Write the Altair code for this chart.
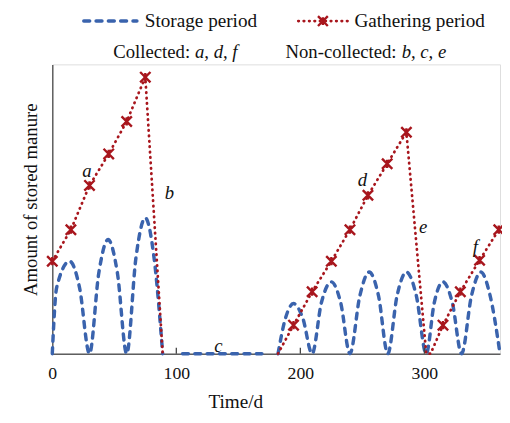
import altair as alt
import pandas as pd

# ---- Storage period (blue dashed) ----
storage_day = [0, 3.5, 14, 22, 30, 37.5, 45, 52.5, 60, 67.5, 75, 82, 89,
               105, 169,
               182, 188, 194.5, 202, 209.5, 217, 225, 232.5, 240, 248, 255.5, 263,
               270.5, 278, 285.5, 293.5, 301.5, 308, 315, 322.5, 330, 338, 345.5, 353, 361]
storage_amt = [0, 67, 94, 67, 0, 82, 116, 82, 0, 98, 138, 98, 0,
               0, 0,
               0, 36, 51, 36, 0, 52, 73, 52, 0, 59, 83, 59,
               0, 59, 83, 59, 0, 52, 73, 52, 0, 59, 83, 59, 0]
storage_seg = [1, 1, 1, 1, 1, 1, 1, 1, 1, 1, 1, 1, 1,
               2, 2,
               3, 3, 3, 3, 3, 3, 3, 3, 3, 3, 3, 3,
               3, 3, 3, 3, 3, 3, 3, 3, 3, 3, 3, 3, 3]

# ---- Gathering period (red dotted with markers) ----
gather_day = [0, 15, 30, 45.5, 60, 75, 89,
              182, 194.5, 209.5, 225, 240, 254.5, 270, 285.5, 301.5, 305, 315, 329, 344.5, 360]
gather_amt = [94, 126, 171, 203, 236, 281, 0,
              0, 29, 63, 94, 126, 161, 193, 225, 0, 0, 29, 63, 95, 126]
gather_seg = [1, 1, 1, 1, 1, 1, 1,
              2, 2, 2, 2, 2, 2, 2, 2, 2, 2, 2, 2, 2, 2]
gather_marker = [1, 1, 1, 1, 1, 1, 0,
                 0, 1, 1, 1, 1, 1, 1, 1, 0, 0, 1, 1, 1, 1]

# ---- Annotations ----
label_text = ["a", "b", "c", "d", "e", "f"]
label_day = [28, 94.5, 134, 250, 299, 341]
label_amt = [186, 163, 8, 176, 129, 108]

tick_day = [100, 200, 300]
x_labels = [0, 100, 200, 300]

BLUE = "#3A63AD"
RED = "#A8161D"
FONT = "Liberation Serif"
XMARK = "M-1,-1L1,1M1,-1L-1,1M0,-0.8L0,0.8"

storage = pd.DataFrame({"day": storage_day, "amt": storage_amt, "seg": storage_seg})
gather = pd.DataFrame({"day": gather_day, "amt": gather_amt, "seg": gather_seg,
                       "marker": gather_marker})
labels = pd.DataFrame({"day": label_day, "amt": label_amt, "txt": label_text})
ticks = pd.DataFrame({"day": tick_day})

X = alt.X("day:Q",
          scale=alt.Scale(domain=[0, 361], nice=False),
          axis=alt.Axis(values=x_labels, ticks=False, grid=False, labelFlush=False,
                        labelFont=FONT, labelFontSize=18, labelColor="#111",
                        labelPadding=11, domainColor="#5e5e5e", domainWidth=1.5,
                        title="Time/d", titleFont=FONT, titleFontSize=19.5,
                        titleFontWeight="normal", titleColor="#111",
                        titleX=186, titleY=55, titleBaseline="alphabetic"))
Y = alt.Y("amt:Q",
          scale=alt.Scale(domain=[0, 294], nice=False),
          axis=alt.Axis(labels=False, ticks=False, grid=False,
                        domainColor="#5e5e5e", domainWidth=1.5,
                        title="Amount of stored manure", titleFont=FONT,
                        titleFontSize=19, titleFontWeight="normal", titleColor="#111",
                        titleX=-16, titleY=137, titleBaseline="alphabetic"))

storage_line = alt.Chart(storage).mark_line(
    color=BLUE, strokeWidth=3.5, strokeDash=[6, 6.5], strokeCap="round",
    interpolate="monotone"
).encode(x=X, y=Y, detail="seg:N")

gather_line = alt.Chart(gather).mark_line(
    color=RED, strokeWidth=2.8, strokeDash=[0.5, 5], strokeCap="round"
).encode(x=X, y=Y, detail="seg:N")

gather_pts = alt.Chart(gather).transform_filter(
    alt.datum.marker == 1
).mark_point(shape=XMARK, filled=False, color=RED, strokeWidth=2.4, size=110,
             opacity=1).encode(x=X, y=Y)

tick_marks = alt.Chart(ticks).mark_rule(color="#444", strokeWidth=1.3).encode(
    x=X, y=alt.value(294), y2=alt.value(288))

annot = alt.Chart(labels).mark_text(
    font=FONT, fontSize=19, fontStyle="italic", color="#111",
    align="center", baseline="middle"
).encode(x=X, y=Y, text="txt:N")


def one():
    return alt.Data(values=[{"k": 0}])


def txt(s, x, y, size, italic=False):
    return alt.Chart(one()).mark_text(
        text=s, align="left", baseline="alphabetic", font=FONT, fontSize=size,
        fontStyle="italic" if italic else "normal", color="#111"
    ).encode(x=alt.value(x), y=alt.value(y))


leg_blue = alt.Chart(one()).mark_rule(
    color=BLUE, strokeWidth=3.5, strokeDash=[6, 6.5], strokeCap="round"
).encode(x=alt.value(32), x2=alt.value(86), y=alt.value(-44))
leg_red = alt.Chart(one()).mark_rule(
    color=RED, strokeWidth=2.8, strokeDash=[0.5, 5], strokeCap="round"
).encode(x=alt.value(250), x2=alt.value(304), y=alt.value(-44))
leg_red_pt = alt.Chart(one()).mark_point(
    shape=XMARK, filled=False, color=RED, strokeWidth=2.4, size=100, opacity=1
).encode(x=alt.value(275), y=alt.value(-44))

legend_layers = [
    leg_blue, leg_red, leg_red_pt,
    txt("Storage period", 94, -38, 19.5),
    txt("Gathering period", 307, -38, 19.5),
    txt("Collected:", 62, -6, 19),
    txt("a, d, f", 145, -6, 19, italic=True),
    txt("Non-collected:", 237, -6, 19),
    txt("b, c, e", 355, -6, 19, italic=True),
]

chart = alt.layer(
    storage_line, gather_line, gather_pts, tick_marks, annot, *legend_layers
).properties(
    width=455, height=294,
    padding={"left": 45, "top": 54, "right": 2, "bottom": 60},
    autosize=alt.AutoSizeParams(type="none"),
).configure_view(strokeWidth=0).configure(background="white")

chart.save("out.html", embed_options={"renderer": "svg", "actions": False})
